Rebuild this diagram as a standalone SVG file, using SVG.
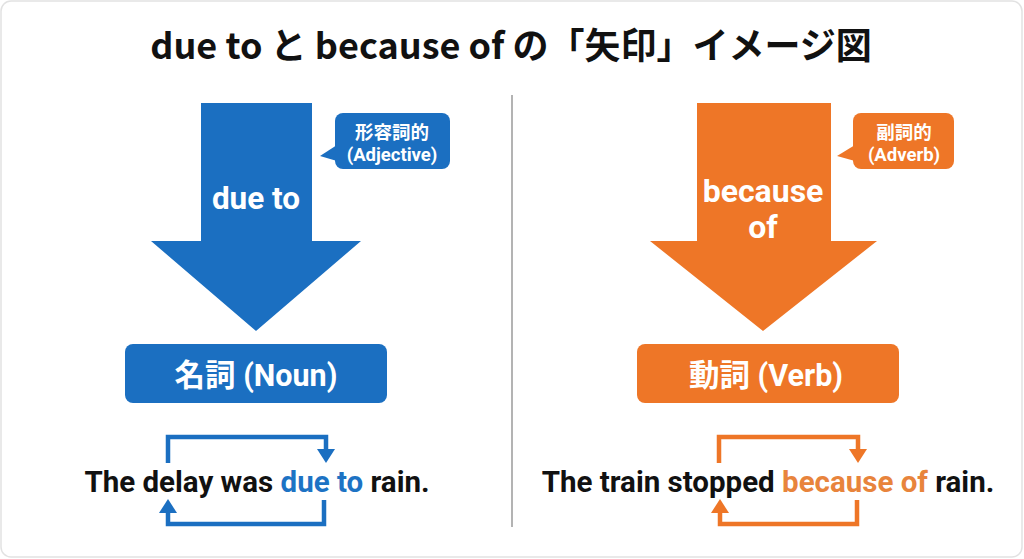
<svg xmlns="http://www.w3.org/2000/svg" width="1024" height="559" viewBox="0 0 1024 559">
<style>
.t{font-family:Roboto,"Noto Sans CJK JP","Liberation Sans",sans-serif;font-weight:700}
.w{fill:#fff}
.blue{fill:#1b6fc1}
.org{fill:#ee7627}
.bl{stroke:#1b6fc1;fill:none;stroke-width:4.5}
.ol{stroke:#ee7627;fill:none;stroke-width:4.5}
</style>
<rect x="1" y="1" width="1021" height="556" rx="10" fill="#fff" stroke="#e2e2e2" stroke-width="1.5"/>
<text class="t" x="511" y="59" font-size="36" text-anchor="middle" fill="#111" style="font-family:'Noto Sans CJK JP',sans-serif">due to と because of の「矢印」イメージ図</text>
<line x1="512" y1="95" x2="512" y2="527" stroke="#9a9a9a" stroke-width="1.5"/>

<g id="left-arrow">
<polygon class="blue" points="201,103 312,103 312,241 361,241 256,331 151,241 201,241"/>
<text class="t w" x="256" y="209" font-size="31.5" text-anchor="middle">due to</text>
</g>
<g id="left-bubble">
<rect class="blue" x="335" y="113" width="115" height="56" rx="8"/>
<polygon class="blue" points="337,145 320,156 337,161"/>
<text class="t w" x="392" y="139" font-size="18.5" text-anchor="middle">形容詞的</text>
<text class="t w" x="392" y="161" font-size="18.5" text-anchor="middle">(Adjective)</text>
</g>
<g id="noun-box">
<rect class="blue" x="125" y="344" width="262" height="59" rx="8"/>
<text class="t w" x="256" y="386" font-size="30.5" text-anchor="middle">名詞 (Noun)</text>
</g>
<g id="left-sentence">
<text class="t" x="257" y="492" font-size="29.5" text-anchor="middle" fill="#111">The delay was <tspan fill="#1d73c4">due to</tspan> rain.</text>
</g>

<g id="right-arrow">
<polygon class="org" points="697,103 831,103 831,241 877,241 763,331 650,241 697,241"/>
<text class="t w" x="763" y="202" font-size="32" text-anchor="middle">because</text>
<text class="t w" x="763" y="238" font-size="32" text-anchor="middle">of</text>
</g>
<g id="right-bubble">
<rect class="org" x="853" y="113" width="101" height="56" rx="8"/>
<polygon class="org" points="855,145 837,156 855,161"/>
<text class="t w" x="904" y="139" font-size="18.5" text-anchor="middle">副詞的</text>
<text class="t w" x="904" y="161" font-size="18.5" text-anchor="middle">(Adverb)</text>
</g>
<g id="verb-box">
<rect class="org" x="637" y="344" width="262" height="59" rx="8"/>
<text class="t w" x="766" y="386" font-size="30.5" text-anchor="middle">動詞 (Verb)</text>
</g>
<g id="right-sentence">
<text class="t" x="768" y="492" font-size="29.5" text-anchor="middle" fill="#111">The train stopped <tspan fill="#e8843c">because of</tspan> rain.</text>
</g>

<g id="connectors">
<polyline class="bl" points="168,463 168,437 326,437 326,451"/>
<polygon class="blue" points="317,449 335,449 326,463"/>
<polyline class="bl" points="324,500 324,524 168,524 168,511"/>
<polygon class="blue" points="159,513 177,513 168,499"/>
<polyline class="ol" points="719,463 719,437 858,437 858,451"/>
<polygon class="org" points="849,449 867,449 858,463"/>
<polyline class="ol" points="857,500 857,524 720,524 720,511"/>
<polygon class="org" points="711,513 729,513 720,499"/>
</g>
</svg>
